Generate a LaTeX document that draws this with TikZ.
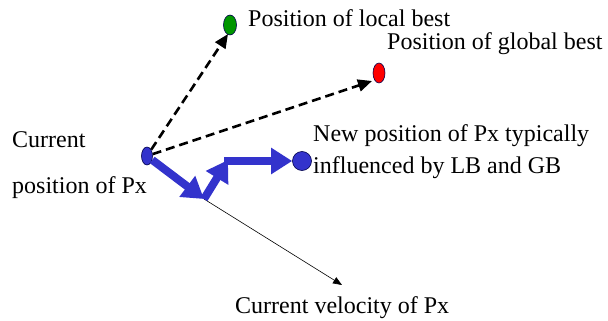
\documentclass[tikz,border=0pt]{standalone}
\usepackage{fontspec}
\setmainfont{Liberation Serif}
\usetikzlibrary{arrows.meta,shapes.geometric}
\definecolor{pblue}{RGB}{51,51,204}
\definecolor{pgreen}{RGB}{0,150,0}
\definecolor{pred}{RGB}{255,0,0}
\begin{document}
\begin{tikzpicture}[x=1pt,y=-1pt,
  dot/.style={ellipse,draw=black!70!blue,line width=0.6pt,inner sep=0pt},
  lbl/.style={inner sep=0pt,anchor=base west,font=\fontsize{24}{28}\selectfont},
  dasharrow/.style={dash pattern=on 9pt off 5pt,line width=2.6pt,-{Triangle[length=14pt,width=12pt]}},
  movearrow/.style={pblue,line width=8pt,-{Triangle[length=21pt,width=25pt]}},
  velarrow/.style={line width=0.6pt,-{Triangle[length=9pt,width=7pt]}}]
\useasboundingbox (0,0) rectangle (608,321);
% dots
\node[dot,fill=pgreen,minimum width=13pt,minimum height=20pt] (lb) at (230,25) {};
\node[dot,fill=pred,minimum width=12pt,minimum height=20pt] (gb) at (379,73) {};
\node[dot,fill=pblue,minimum width=11pt,minimum height=18pt] (px) at (147,156) {};
\node[dot,fill=pblue,minimum width=19pt,minimum height=19pt] (np) at (302,161) {};
% coordinates
\coordinate (lbt) at (228,34);
\coordinate (gbt) at (372,81);
\coordinate (b1) at (204,199);
\coordinate (b2) at (228,160);
\coordinate (b3) at (224,161);
\coordinate (vt) at (342,285);
% dashed arrows
\draw[dasharrow] (px) -- (lbt);
\draw[dasharrow] (px) -- (gbt);
% velocity
\draw[velarrow] (b1) -- (vt);
% movement
\draw[movearrow] (px) -- (b1);
\draw[movearrow] (b1) -- (b2);
\draw[movearrow] (b3) -- (np);
% labels
\node[lbl] (tlb) at (248,27) {Position of local best};
\node[lbl] (tgb) at (387,50) {Position of global best};
\node[lbl] (tc1) at (12,147) {Current};
\node[lbl] (tc2) at (12,193) {position of Px};
\node[lbl] (tn1) at (313,141) {New position of Px typically};
\node[lbl] (tn2) at (313,173) {influenced by LB and GB};
\node[lbl] (tv) at (235,313) {Current velocity of Px};
\end{tikzpicture}
\end{document}
